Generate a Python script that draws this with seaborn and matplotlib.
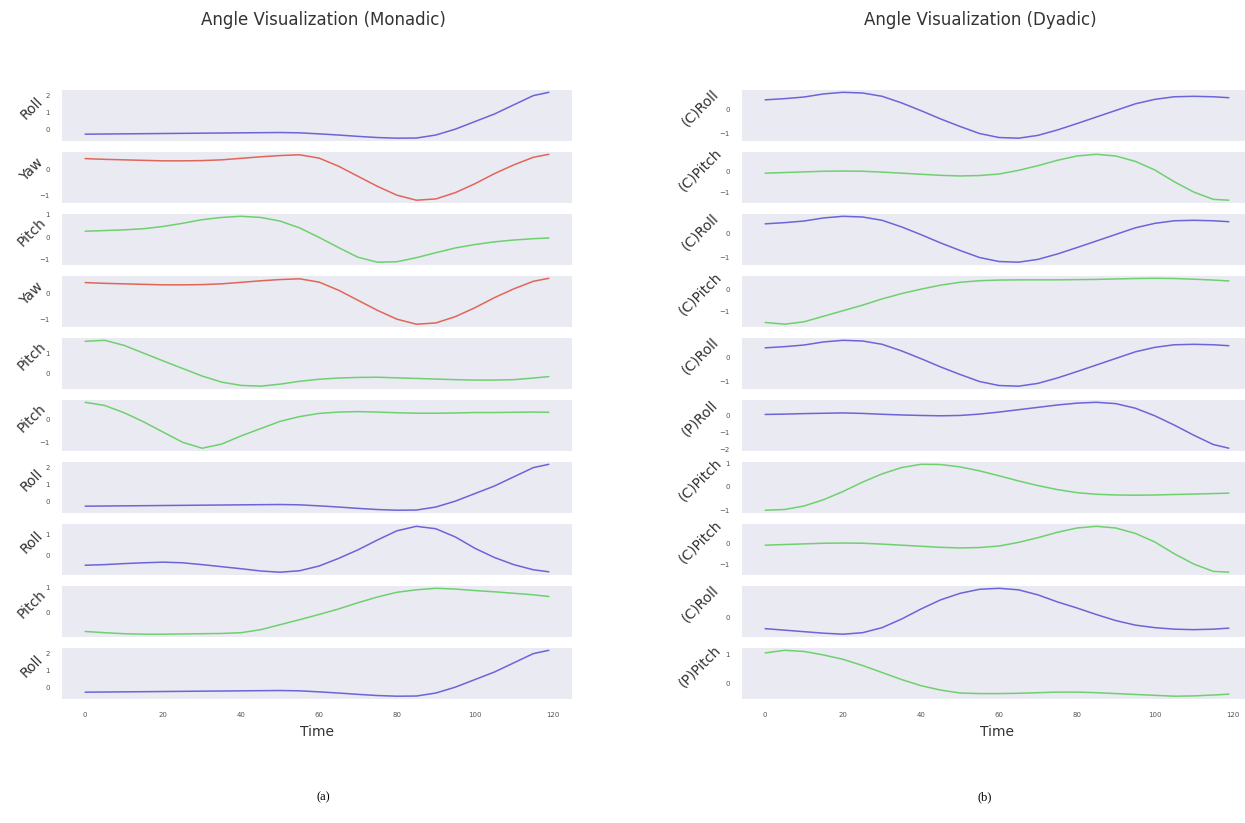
import numpy as np
import matplotlib
matplotlib.use("Agg")
import matplotlib.pyplot as plt
import seaborn as sns
import pandas as pd
from matplotlib.ticker import MultipleLocator

# sampled time steps
time = [0, 5, 10, 15, 20, 25, 30, 35, 40, 45, 50, 55, 60, 65, 70, 75, 80, 85, 90, 95, 100, 105, 110, 115, 119]

# monadic series
roll_a = [-0.3, -0.29, -0.28, -0.27, -0.26, -0.25, -0.24, -0.23, -0.22, -0.21, -0.2, -0.22, -0.28, -0.35, -0.43, -0.5, -0.54, -0.53, -0.35, 0.0, 0.45, 0.9, 1.45, 2.0, 2.2]
yaw_a = [0.45, 0.42, 0.4, 0.38, 0.36, 0.36, 0.37, 0.4, 0.46, 0.52, 0.57, 0.6, 0.47, 0.15, -0.25, -0.65, -1.0, -1.2, -1.15, -0.9, -0.55, -0.15, 0.2, 0.5, 0.62]
pitch_a = [0.27, 0.3, 0.33, 0.38, 0.48, 0.62, 0.78, 0.88, 0.93, 0.88, 0.72, 0.42, 0.0, -0.45, -0.88, -1.1, -1.08, -0.9, -0.68, -0.47, -0.32, -0.2, -0.12, -0.06, -0.03]
pitch_b = [1.58, 1.63, 1.38, 1.0, 0.62, 0.25, -0.12, -0.42, -0.58, -0.62, -0.52, -0.38, -0.28, -0.22, -0.19, -0.18, -0.21, -0.24, -0.27, -0.3, -0.32, -0.32, -0.3, -0.22, -0.15]
pitch_c = [0.76, 0.62, 0.3, -0.1, -0.55, -1.0, -1.26, -1.08, -0.72, -0.4, -0.08, 0.13, 0.27, 0.33, 0.35, 0.33, 0.3, 0.28, 0.28, 0.29, 0.31, 0.31, 0.32, 0.33, 0.32]
roll_b = [-0.48, -0.45, -0.4, -0.36, -0.33, -0.36, -0.45, -0.55, -0.65, -0.76, -0.82, -0.75, -0.52, -0.15, 0.27, 0.75, 1.2, 1.42, 1.3, 0.9, 0.35, -0.1, -0.45, -0.7, -0.8]
pitch_d = [-0.75, -0.8, -0.84, -0.86, -0.86, -0.85, -0.84, -0.83, -0.8, -0.68, -0.48, -0.28, -0.07, 0.15, 0.4, 0.63, 0.82, 0.92, 0.98, 0.95, 0.89, 0.84, 0.78, 0.72, 0.65]

# dyadic series
c_roll_a = [0.43, 0.48, 0.55, 0.68, 0.75, 0.72, 0.58, 0.3, -0.03, -0.38, -0.7, -1.0, -1.17, -1.2, -1.08, -0.85, -0.58, -0.3, -0.02, 0.26, 0.45, 0.56, 0.58, 0.56, 0.52]
c_pitch_a = [-0.1, -0.07, -0.04, -0.01, 0.0, -0.01, -0.05, -0.1, -0.15, -0.2, -0.23, -0.21, -0.14, 0.03, 0.25, 0.5, 0.7, 0.78, 0.7, 0.45, 0.05, -0.5, -0.98, -1.32, -1.36]
c_pitch_b = [-1.48, -1.56, -1.45, -1.2, -0.95, -0.7, -0.42, -0.18, 0.02, 0.2, 0.33, 0.4, 0.43, 0.44, 0.44, 0.44, 0.45, 0.46, 0.48, 0.5, 0.51, 0.5, 0.47, 0.43, 0.39]
p_roll = [0.08, 0.1, 0.13, 0.15, 0.17, 0.14, 0.09, 0.05, 0.02, 0.0, 0.02, 0.1, 0.22, 0.36, 0.5, 0.64, 0.75, 0.8, 0.72, 0.45, 0.0, -0.55, -1.15, -1.7, -1.92]
c_pitch_c = [-1.0, -0.97, -0.82, -0.55, -0.2, 0.2, 0.55, 0.82, 0.96, 0.95, 0.85, 0.68, 0.47, 0.25, 0.05, -0.12, -0.25, -0.32, -0.35, -0.36, -0.35, -0.33, -0.31, -0.29, -0.27]
c_roll_b = [-0.22, -0.25, -0.28, -0.31, -0.33, -0.3, -0.2, -0.03, 0.17, 0.35, 0.48, 0.56, 0.58, 0.55, 0.45, 0.31, 0.19, 0.06, -0.06, -0.15, -0.2, -0.23, -0.24, -0.23, -0.21]
p_pitch = [1.05, 1.14, 1.1, 0.98, 0.83, 0.62, 0.38, 0.14, -0.07, -0.22, -0.32, -0.34, -0.34, -0.33, -0.31, -0.29, -0.29, -0.31, -0.34, -0.37, -0.4, -0.43, -0.42, -0.39, -0.36]

monadic_labels = ["Roll", "Yaw", "Pitch", "Yaw", "Pitch", "Pitch", "Roll", "Roll", "Pitch", "Roll"]
monadic_series = [roll_a, yaw_a, pitch_a, yaw_a, pitch_b, pitch_c, roll_a, roll_b, pitch_d, roll_a]
dyadic_labels = ["(C)Roll", "(C)Pitch", "(C)Roll", "(C)Pitch", "(C)Roll", "(P)Roll", "(C)Pitch", "(C)Pitch", "(C)Roll", "(P)Pitch"]
dyadic_series = [c_roll_a, c_pitch_a, c_roll_a, c_pitch_b, c_roll_a, p_roll, c_pitch_c, c_pitch_a, c_roll_b, p_pitch]

colors = {"Roll": "#6c64d8", "Yaw": "#e06658", "Pitch": "#6fd06f"}

sns.set_theme(style="dark")
W, H = 1245, 823
fig = plt.figure(figsize=(W / 100, H / 100), dpi=100)


def draw_panel(labels, series, left_px, label_x):
    for i, (name, vals) in enumerate(zip(labels, series)):
        top = 90 + 62 * i
        ax = fig.add_axes([left_px / W, 1 - (top + 50.5) / H, 510 / W, 50.5 / H])
        df = pd.DataFrame({"Time": time, "Angle": vals})
        kind = name.split(")")[-1]
        sns.lineplot(data=df, x="Time", y="Angle", ax=ax, color=colors[kind], linewidth=1.1)
        ax.set_facecolor("#EAEAF2")
        ax.yaxis.set_major_locator(MultipleLocator(1))
        ax.tick_params(axis="y", labelsize=5, labelcolor="#555555", pad=3)
        ax.set_ylabel(name, rotation=45, fontsize=10, color="#333333", ha="center", va="center")
        ax.yaxis.set_label_coords(label_x, 0.64)
        ax.set_xticks([0, 20, 40, 60, 80, 100, 120])
        if i < len(labels) - 1:
            ax.set_xticklabels([])
            ax.set_xlabel("")
        else:
            ax.tick_params(axis="x", labelsize=5, labelcolor="#555555", pad=4)
            ax.set_xlabel("Time", fontsize=10, color="#333333", labelpad=5)
        for s in ax.spines.values():
            s.set_visible(False)


draw_panel(monadic_labels, monadic_series, 62, -30 / 510)
draw_panel(dyadic_labels, dyadic_series, 742, -42 / 510)

fig.text(323 / W, 1 - 20 / H, "Angle Visualization (Monadic)", ha="center", va="center", fontsize=12, color="#333333")
fig.text(980 / W, 1 - 20 / H, "Angle Visualization (Dyadic)", ha="center", va="center", fontsize=12, color="#333333")
fig.text(323 / W, 1 - 797 / H, "(a)", ha="center", va="center", fontsize=9, family="Liberation Serif", color="black")
fig.text(985 / W, 1 - 797 / H, "(b)", ha="center", va="center", fontsize=9, family="Liberation Serif", color="black")

fig.savefig("out.png", dpi=100, facecolor="white")
